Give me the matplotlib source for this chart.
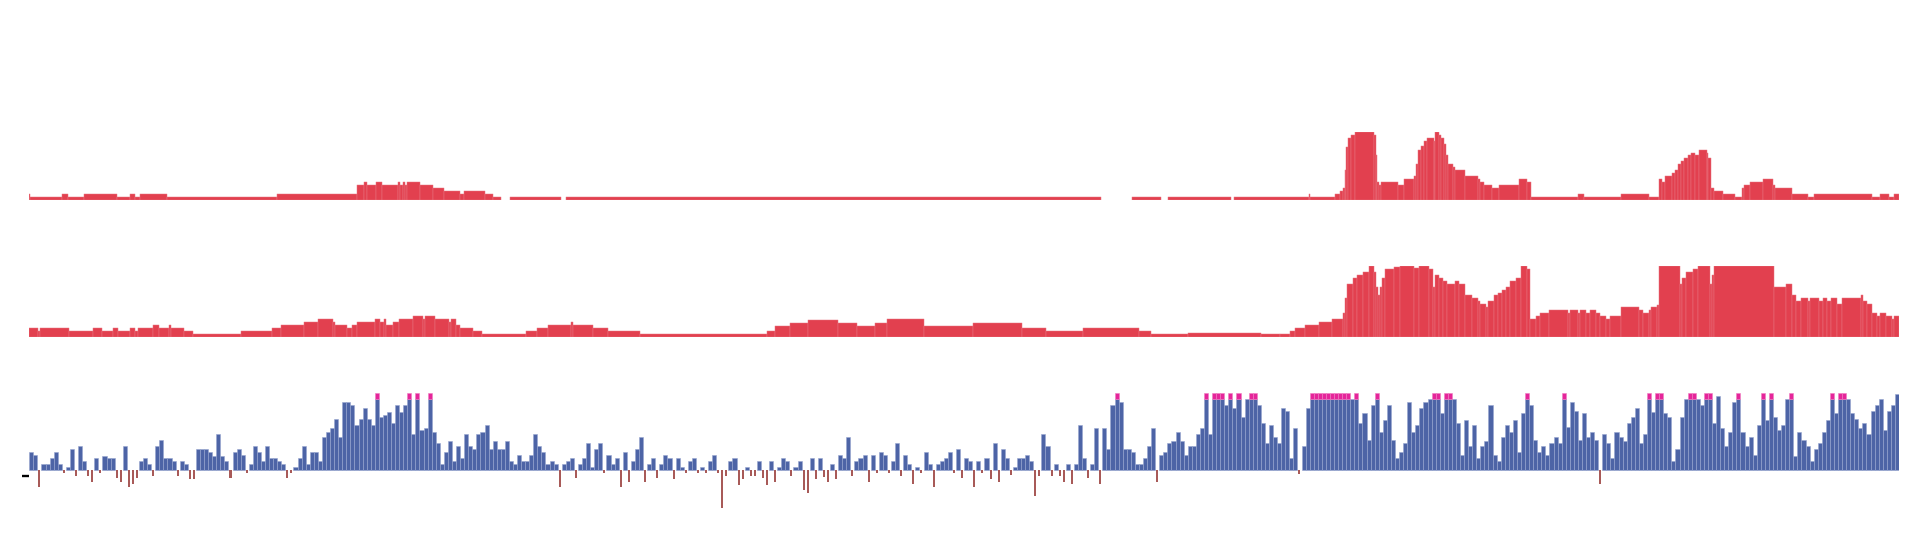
import numpy as np
import matplotlib
matplotlib.use("Agg")
import matplotlib.pyplot as plt
from matplotlib.lines import Line2D

nan = float("nan")

# genomic region shown (arbitrary position units)
region_end = 1870.0

# ---- track 1 : coverage intervals (start, value); gaps = nan ----
t1_start = [0, 1.2, 32.7, 38.9, 54.8, 87.8, 100.5, 105.4, 110.7, 138, 247.4, 327.8, 334.8, 338,
            346.6, 352.7, 368.3, 370.7, 373.6, 376, 378, 391.1, 404.2, 414.4, 430.7, 434.8, 455.6,
            463.4, 471.5, 480.5, 531.9, 536.8, 1072.3, 1102.5, 1131.5, 1138.9, 1202.1, 1205, 1280.1,
            1281.3, 1305.8, 1311.1, 1314, 1316, 1317.2, 1318.9, 1322.1, 1326.2, 1344.6, 1346.6,
            1347.8, 1349.9, 1351.5, 1369.1, 1374.8, 1384.6, 1386.6, 1389.1, 1391.5, 1394.8, 1397.6,
            1404.6, 1406.2, 1409.9, 1412.3, 1414.8, 1416.8, 1418.9, 1423.8, 1426.2, 1436.4, 1448.7,
            1450.7, 1455.2, 1463.4, 1469.9, 1489.9, 1498.1, 1502.1, 1548.7, 1555.2, 1591.9, 1620.1,
            1630.3, 1632.7, 1635.6, 1643.4, 1645.8, 1648.7, 1651.9, 1654.8, 1658.9, 1662.1, 1666.2,
            1670.3, 1677.6, 1679.3, 1682.1, 1685.4, 1693.6, 1705.8, 1713.2, 1714.8, 1720.9, 1734,
            1744.2, 1745.8, 1762.9, 1778.5, 1784.6, 1843, 1850.7, 1860.1, 1865]
t1_val = [5.6, 2.7, 5.6, 2.7, 5.6, 2.7, 5.6, 2.7, 5.6, 2.7, 5.6, 14.6, 17.3, 14.6,
          17.3, 14.6, 17.3, 14.6, 17.3, 14.6, 17.3, 14.6, 11.6, 8.6, 5.6, 8.6, 5.6,
          2.7, nan, 2.7, nan, 2.7, nan, 2.7, nan, 2.7, nan, 2.7, 5.6,
          2.7, 5.6, 8.6, 11.6, 29.3, 52.6, 62, 64.6, 67.3, 64.6, 44.3,
          17.6, 14.6, 17.6, 14.6, 20.3, 23.3, 35.3, 50, 53.3, 58.6, 62,
          58.6, 67.3, 64.6, 62, 56, 44.3, 35.3, 32.3, 29.3, 23.3, 20.3,
          17.6, 14.6, 11.6, 14.6, 20.3, 17.6, 2.7, 5.6, 2.7, 5.6, 2.7,
          20.3, 17.6, 23.3, 26.3, 29.3, 35.3, 38.3, 41.6, 44.6, 47, 44.6,
          50, 47, 41.6, 11.6, 8.6, 5.6, 2.7, 11.6, 14.6, 17.6, 20.3,
          14.6, 11.6, 5.6, 2.7, 5.6, 2.7, 5.6, 2.7, 5.6]

# ---- track 2 : coverage intervals ----
t2_start = [0, 8.7, 10.7, 40.1, 63.8, 72.7, 83.8, 89.1, 100.5, 105.4, 108.3, 123.8, 129.9, 140.1,
            141.3, 154.4, 163.8, 211.5, 243, 251.5, 274.8, 289.1, 303.4, 305.4, 317.6, 322.5, 327.8,
            346.2, 351.1, 354.4, 356.8, 363.8, 369.9, 383.8, 394, 396, 405.4, 419.7, 421.7, 427,
            431.1, 444.2, 453.1, 497.2, 507.8, 518.9, 542.1, 543.3, 563.4, 578.9, 611, 738, 746,
            761, 779, 809, 828, 846, 858, 895, 944, 993, 1017, 1054, 1110, 1122, 1159, 1232,
            1250.7, 1260.9, 1265.8, 1276, 1290.3, 1303, 1314, 1316, 1318, 1324.2, 1328.3, 1334.4,
            1339.7, 1344.6, 1346.6, 1348.7, 1350.7, 1352.7, 1356, 1365, 1371.1, 1385.4, 1390.3,
            1399.7, 1403.8, 1405.8, 1409.9, 1414, 1418.1, 1426.2, 1430.3, 1436.4, 1442.5, 1448.7,
            1450.7, 1456.8, 1458.9, 1465, 1469.1, 1473.2, 1477.2, 1481.3, 1487.4, 1491.5, 1497.6,
            1500.5, 1507, 1511.1, 1520.1, 1538.5, 1540.5, 1548.7, 1550.7, 1556.8, 1560.9, 1567,
            1571.1, 1577.2, 1581.3, 1591.5, 1609.9, 1614, 1620.1, 1622.1, 1628.3, 1630.3, 1650.7,
            1652.7, 1656.8, 1663.8, 1669.1, 1681.3, 1683.4, 1685.4, 1744.6, 1756.8, 1762.9, 1767,
            1772.3, 1779.3, 1781.3, 1789.5, 1793.5, 1797.6, 1801.7, 1807.8, 1813.1, 1832.3, 1834.4,
            1837.6, 1842.5, 1848, 1851, 1857, 1862.5, 1865]
t2_val = [8.7, 6, 8.7, 6, 8.7, 6, 8.7, 6, 8.7, 6, 8.7, 11.7, 8.7, 11.7,
          8.7, 6, 2.4, 6, 8.7, 11.7, 14.7, 17.7, 14.7, 11.7, 8.7, 11.7, 14.7,
          17.7, 14.7, 17.7, 11.7, 14.7, 17.7, 20.7, 17.7, 20.7, 17.7, 14.7, 17.7, 11.7,
          8.7, 6, 2.4, 6, 8.7, 11.7, 14.7, 11.7, 8.7, 6, 2.4, 6, 11,
          14, 17, 14, 11, 14, 18, 11, 14, 9, 6, 9, 6, 3, 4, 3,
          2.4, 6, 8.7, 11.7, 14.7, 17.7, 23.4, 38.4, 52.7, 58.4, 61.7, 64.7,
          70.7, 64.7, 50, 41.4, 50, 58.4, 67.7, 69.4, 70.7, 68.7, 70.7,
          67.7, 50, 61.7, 58.4, 56, 52.7, 56, 52.7, 41.4, 38.4, 35.4,
          32.7, 29.4, 35.4, 41.4, 44, 47, 50, 56, 58.7, 70.7, 67.7,
          17.7, 20.7, 23.4, 26.4, 23.4, 26.4, 23.4, 26.4, 23.4, 26.4, 23.4,
          20.7, 17.7, 20.7, 29.4, 26.4, 23.4, 26.4, 29.4, 32, 70.7, 52.7,
          58.4, 64.7, 67.7, 70.7, 52.7, 61.7, 70.7, 50, 52.7, 41.4, 35.4,
          38.4, 35.4, 38.4, 35.4, 38.4, 35.4, 38.4, 32.7, 38.4, 41.4, 35.4,
          32.7, 23.4, 20.7, 23.4, 20.7, 17.7, 20.7]

# ---- track 3 : signed signal per bin (values above the limit are clipped) ----
t3_val = [18, 15, -17, 6, 6, 12, 18, 6, -3, 3,
          21, -6, 24, 9, -6, -12, 12, -3, 14, 12,
          12, -8, -12, 24, -17, -14, -8, 9, 12, 6,
          -6, 24, 30, 12, 12, 9, -6, 9, 6, -9,
          -9, 21, 21, 21, 18, 14, 36, 14, 9, -8,
          18, 21, 15, -3, 6, 24, 18, 9, 24, 12,
          12, 9, 6, -8, -3, 3, 12, 24, 6, 18,
          18, 9, 33, 38, 42, 51, 33, 68, 68, 65,
          45, 51, 62, 51, 45, 77, 53, 55, 58, 47,
          65, 58, 65, 77, 36, 77, 40, 42, 77, 38,
          27, 6, 18, 29, 9, 24, 12, 36, 24, 21,
          36, 38, 45, 21, 29, 21, 21, 29, 9, 6,
          15, 9, 9, 15, 36, 24, 18, 6, 9, 6,
          -17, 6, 9, 12, -8, 6, 12, 27, 3, 21,
          27, -3, 15, 6, 12, -17, 18, -12, 9, 21,
          33, -12, 6, 12, -8, 6, 15, 12, -9, 12,
          3, -3, 9, 12, -3, 3, -3, 9, 15, -3,
          -38, -6, 9, 12, -15, -9, 3, -6, -6, 9,
          -8, -15, 9, -12, 3, 12, 9, -6, 3, 9,
          -20, -23, 12, -9, 12, -7, -12, 6, -9, 15,
          12, 33, -6, 9, 12, 15, -12, 15, -3, 18,
          15, -3, 9, 27, -6, 15, 6, -14, 3, -3,
          18, 6, -17, 6, 9, 12, 18, -3, 21, -8,
          12, 9, -17, 9, -3, 12, -9, 27, -12, 21,
          12, -5, 3, 12, 12, 15, 9, -26, -6, 36,
          24, -6, 6, -6, -12, 6, -14, 6, 45, 12,
          -8, 6, 42, -14, 42, 21, 65, 77, 68, 21,
          21, 18, 6, 6, 12, 24, 42, -12, 15, 18,
          27, 29, 38, 29, 15, 24, 24, 36, 42, 77,
          36, 77, 77, 77, 65, 77, 62, 77, 53, 71,
          77, 77, 65, 47, 27, 45, 33, 27,
          62, 59, 12, 42, -4, 24, 62, 77, 77, 77,
          77, 77, 77, 77, 77, 77, 77, 71, 77, 47,
          57, 30, 65, 77, 38, 50, 65, 30, 12, 18,
          27, 68, 38, 45, 62, 68, 71, 77, 77, 57,
          77, 77, 71, 47, 15, 50, 24, 45, 12, 24,
          29, 65, 15, 9, 33, 45, 38, 50, 18, 57,
          77, 65, 30, 18, 24, 15, 27, 33, 27, 77,
          43, 68, 59, 30, 57, 33, 38, 30, -14, 36,
          27, 12, 38, 33, 29, 47, 53, 62, 27, 36,
          77, 58, 77, 77, 57, 53, 9, 21, 53, 71,
          77, 77, 71, 65, 77, 77, 47, 74, 42, 24,
          38, 68, 77, 38, 24, 33, 15, 45, 77, 50,
          77, 53, 40, 45, 71, 77, 14, 38, 30, 24,
          9, 21, 27, 38, 50, 77, 57, 77, 77, 71,
          57, 51, 42, 47, 36, 59, 65, 71, 40, 59,
          65, 76]

# scale limits of the tracks
t1_max = 67.3
t2_max = 70.7
t3_max = 76.2
t3_min = -40.0
t3_cap = 5.7

red = "#e2404f"
red_edge = "#ea7580"
blue = "#4d64a6"
blue_edge = "#97a6d0"
neg_col = "#a85a58"
magenta = "#e5259a"

W_PX, H_PX = 1920, 540
fig = plt.figure(figsize=(19.2, 5.4), dpi=100)
fig.patch.set_facecolor("white")
left = 29.3 / W_PX
width = 1869.7 / W_PX


def add_track(top_px, bottom_px):
    ax = fig.add_axes([left, 1 - bottom_px / H_PX, width, (bottom_px - top_px) / H_PX])
    ax.set_xlim(0, region_end)
    ax.axis("off")
    return ax


def draw_intervals(ax, starts, vals, color, edge):
    s = np.asarray(starts, float)
    v = np.asarray(vals, float)
    e = np.append(s[1:], region_end)
    m = ~np.isnan(v)
    ax.bar(s[m], v[m], width=(e - s)[m], align="edge", color=color,
           edgecolor=edge, linewidth=0.35)


ax1 = add_track(132.2, 199.5)
draw_intervals(ax1, t1_start, t1_val, red, red_edge)
ax1.set_ylim(0, t1_max)

ax2 = add_track(266.0, 336.7)
draw_intervals(ax2, t2_start, t2_val, red, red_edge)
ax2.set_ylim(0, t2_max)

ax3 = add_track(393.3, 509.5)
v3 = np.asarray(t3_val, float)
n3 = len(v3)
pitch = region_end / n3
x3 = (np.arange(n3) + 0.5) * pitch
clipped = v3 > t3_max
pos = v3 > 0
blue_h = np.where(clipped, t3_max - t3_cap, v3)
ax3.bar(x3[pos], blue_h[pos], width=pitch, color=blue, edgecolor=blue_edge, linewidth=0.4)
negm = v3 < 0
ax3.bar(x3[negm], v3[negm], width=pitch * 0.5, color=neg_col, linewidth=0)
ax3.bar(x3[clipped], np.full(clipped.sum(), t3_cap), bottom=t3_max - t3_cap,
        width=pitch, color=magenta, edgecolor="#f07cc0", linewidth=0.4)
ax3.set_ylim(t3_min, t3_max)

# small black scale mark left of the signal track
fig.add_artist(Line2D([21.7 / W_PX, 29.0 / W_PX], [1 - 476 / H_PX] * 2,
                      color="black", linewidth=1.7, solid_capstyle="butt"))

fig.savefig("out.png", dpi=100, facecolor="white")
